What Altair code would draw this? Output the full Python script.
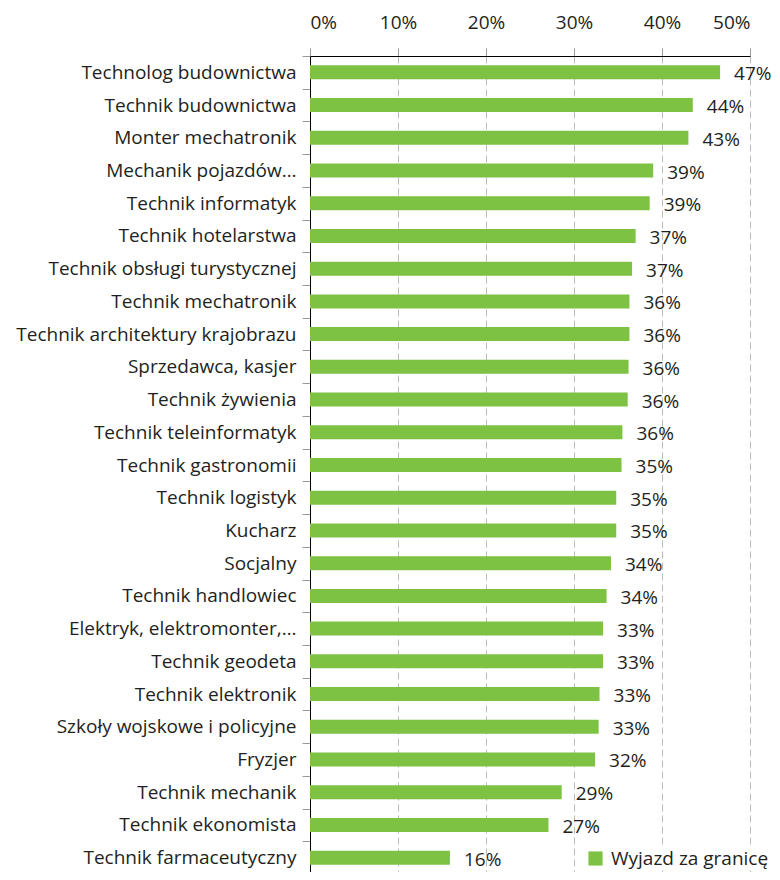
import altair as alt
import pandas as pd

categories = [
    "Technolog budownictwa", "Technik budownictwa", "Monter mechatronik",
    "Mechanik pojazdów…", "Technik informatyk", "Technik hotelarstwa",
    "Technik obsługi turystycznej", "Technik mechatronik",
    "Technik architektury krajobrazu", "Sprzedawca, kasjer", "Technik żywienia",
    "Technik teleinformatyk", "Technik gastronomii", "Technik logistyk",
    "Kucharz", "Socjalny", "Technik handlowiec", "Elektryk, elektromonter,…",
    "Technik geodeta", "Technik elektronik", "Szkoły wojskowe i policyjne",
    "Fryzjer", "Technik mechanik", "Technik ekonomista", "Technik farmaceutyczny",
]
values = [46.6, 43.5, 43.0, 39.0, 38.6, 37.0, 36.6, 36.3, 36.3, 36.2, 36.1, 35.5,
          35.4, 34.8, 34.8, 34.2, 33.7, 33.3, 33.3, 32.9, 32.8, 32.4, 28.6, 27.1, 15.9]
labels = ["47%", "44%", "43%", "39%", "39%", "37%", "37%", "36%", "36%", "36%",
          "36%", "36%", "35%", "35%", "35%", "34%", "34%", "33%", "33%", "33%",
          "33%", "32%", "29%", "27%", "16%"]
series = "Wyjazd za granicę"
x_ticks = [0, 0.1, 0.2, 0.3, 0.4, 0.5]

df = pd.DataFrame({
    "cat": categories,
    "val": [v / 100 for v in values],
    "lab": labels,
    "series": series,
})

FONT = "Open Sans"
FS = 19
TXT = "#231F20"
GREEN = "#7DC242"

y_enc = alt.Y("cat:N", sort=categories,
              scale=alt.Scale(paddingInner=0, paddingOuter=0, range=[0, 818]),
              axis=alt.Axis(title=None, orient="left", tickBand="extent",
                            domainColor="#000000", tickColor="#999999",
                            tickSize=8, labelPadding=6, labelFontSize=FS,
                            labelFont=FONT, labelColor=TXT, labelLimit=400,
                            grid=False))
x_enc = alt.X("val:Q", scale=alt.Scale(domain=[0, 0.5], nice=False),
              axis=alt.Axis(title=None, orient="top", values=x_ticks, format=".0%",
                            domainColor="#000000", tickColor="#999999", tickSize=8,
                            labelPadding=16, labelFontSize=FS, labelFont=FONT,
                            labelColor=TXT, grid=True, gridColor="#BBBBBB",
                            gridDash=[7, 4], gridWidth=1))

bars = alt.Chart(df).mark_bar(size=14).encode(
    y=y_enc, x=x_enc,
    color=alt.Color("series:N", scale=alt.Scale(range=[GREEN]),
                    legend=alt.Legend(title=None, orient="none", legendX=275,
                                      legendY=792, symbolType="square",
                                      symbolSize=200, symbolStrokeWidth=0,
                                      labelFontSize=FS, labelFont=FONT,
                                      labelColor=TXT, fillColor="white",
                                      padding=1, labelOffset=6, labelLimit=400)),
)
text = alt.Chart(df).mark_text(align="left", baseline="middle", dx=14, dy=2,
                               fontSize=FS, font=FONT, color=TXT).encode(
    y=alt.Y("cat:N", sort=categories), x="val:Q", text="lab:N")

chart = (bars + text).properties(
    width=440, height=816,
    autosize=alt.AutoSizeParams(type="none"),
    padding={"left": 302, "top": 48, "right": 22, "bottom": 0},
).configure_view(stroke=None)

chart.save("out.html", embed_options={"renderer": "svg", "actions": False})
